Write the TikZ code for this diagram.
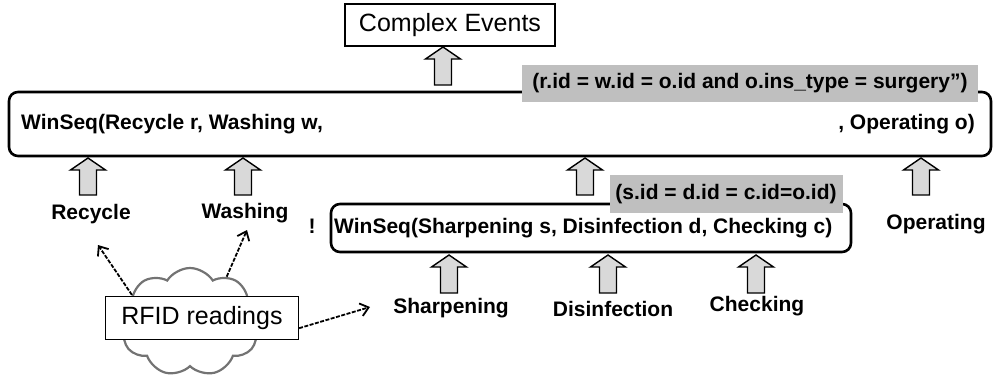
\documentclass[tikz,border=0pt]{standalone}
\usepackage{fontspec}
\setmainfont{Liberation Sans}
\usetikzlibrary{shapes.symbols,arrows.meta,positioning}

\tikzset{
  bigtext/.style={font=\fontsize{25}{30}\selectfont, inner sep=0pt},
  evtext/.style={font=\fontsize{21}{25}\selectfont\bfseries, inner sep=0pt},
  seqbox/.style={draw, line width=2.6pt, rounded corners=9pt},
  condbox/.style={fill=black!25, font=\fontsize{21}{25}\selectfont\bfseries, inner sep=0pt},
  blockarr/.style={draw, line width=1.4pt, fill=black!15, line join=miter},
  readarr/.style={-{Straight Barb[length=8pt,width=13pt,line width=1.8pt]}, dash pattern=on 4pt off 1.5pt, line width=1.8pt},
}

% block arrow: x, top y, bottom y
\newcommand{\blockarrow}[3]{%
  \draw[blockarr] ({#1-8.5},#3) -- ({#1-8.5},{#2+12}) -- ({#1-17.5},{#2+12}) -- (#1,#2)
    -- ({#1+17.5},{#2+12}) -- ({#1+8.5},{#2+12}) -- ({#1+8.5},#3) -- cycle;}

\begin{document}
\begin{tikzpicture}[x=1pt,y=-1pt]

    \useasboundingbox (0,0) rectangle (993,383);

    % constants
    \def\ytop{158}
    \def\ybot{195}
    \def\ylow{255}
    \def\ylowb{293}

    % output
    \node [draw, line width=1.2pt, minimum width=210pt, minimum height=42pt, bigtext] (complex) at (450,25) {Complex Events};
    \blockarrow{443}{47}{85}

    % outer sequence
    \node [seqbox, minimum width=982pt, minimum height=64pt] (outer) at (500,124) {};
    \node [evtext, anchor=west] (outerleft) at (21,124) {WinSeq(Recycle r, Washing w,};
    \node [evtext, anchor=east] (outerright) at (975,124) {, Operating o)};
    \node [condbox, minimum width=456pt, minimum height=37pt] (outercond) at (750,83) {(r.id = w.id = o.id and o.ins\_type = surgery”)};

    \blockarrow{88}{\ytop}{\ybot}
    \blockarrow{243}{\ytop}{\ybot}
    \blockarrow{585}{\ytop}{\ybot}
    \blockarrow{921}{\ytop}{\ybot}

    \node [evtext] (recycle) at (91,214) {Recycle};
    \node [evtext] (washing) at (245,213) {Washing};
    \node [evtext] (operating) at (936,224) {Operating};
    \node [evtext] (bang) at (312,226) {!};

    % inner sequence
    \node [seqbox, minimum width=520pt, minimum height=48pt] (inner) at (591,228) {};
    \node [evtext, anchor=west] (innertext) at (334,228) {WinSeq(Sharpening s, Disinfection d, Checking c)};
    \node [condbox, minimum width=233pt, minimum height=38pt] (innercond) at (726,194) {(s.id = d.id = c.id=o.id)};

    \blockarrow{449}{\ylow}{\ylowb}
    \blockarrow{608}{\ylow}{\ylowb}
    \blockarrow{756}{\ylow}{\ylowb}

    \node [evtext] (sharpening) at (451,308) {Sharpening};
    \node [evtext] (disinfection) at (613,309) {Disinfection};
    \node [evtext] (checking) at (757,306) {Checking};

    % readings
    \node [cloud, cloud puffs=9, cloud puff arc=115, aspect=1.3, draw=black!55, line width=2.2pt, minimum width=142pt, minimum height=108pt] (cloud) at (190,322) {};
    \node [draw, fill=white, line width=1.2pt, minimum width=193pt, minimum height=43pt, bigtext] (rfid) at (202,318) {RFID readings};

    \coordinate (recycletip) at (98,245);
    \coordinate (washingtip) at (247,230);
    \coordinate (sharpeningtip) at (370,307);
    \draw [readarr] (cloud.155) -- (recycletip);
    \draw [readarr] (cloud.51) -- (washingtip);
    \draw [readarr] (rfid.-6) -- (sharpeningtip);

\end{tikzpicture}
\end{document}
